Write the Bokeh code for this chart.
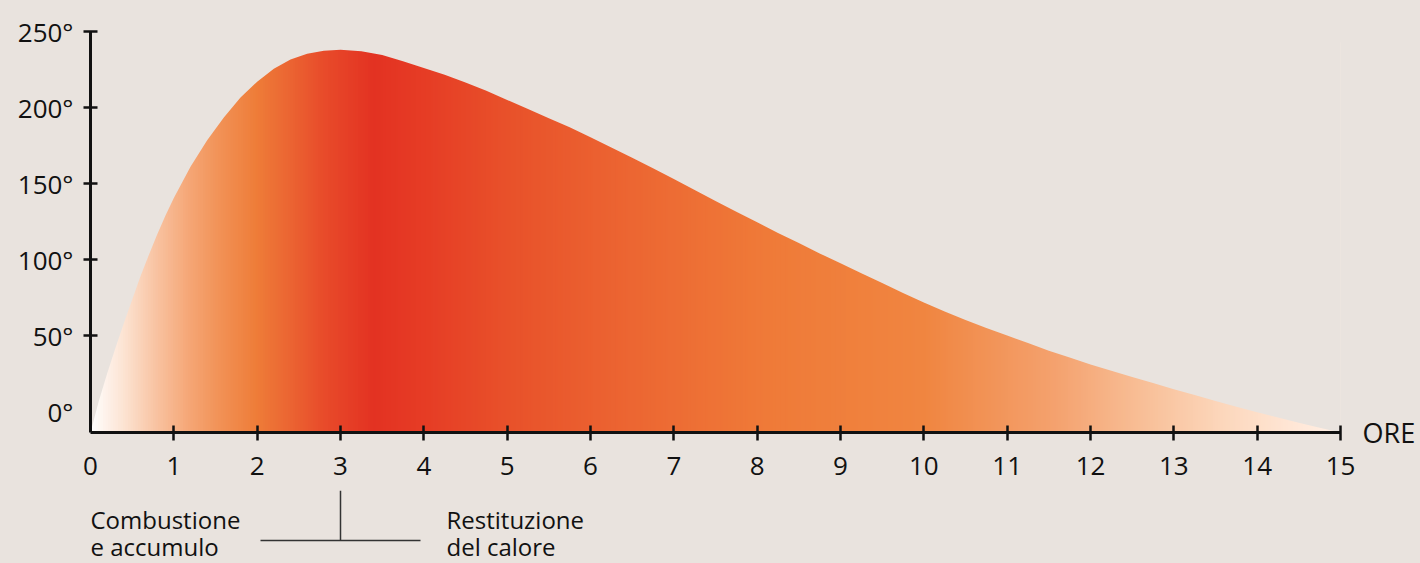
import numpy as np
from bokeh.plotting import figure
from bokeh.layouts import column
from bokeh.models import FixedTicker, Range1d, LinearAxis
from bokeh.core.properties import value
from bokeh.embed import file_html
from bokeh.resources import INLINE

# ---- data ----
hours = [0, 0.1, 0.2, 0.3, 0.4, 0.5, 0.6, 0.7, 0.8, 0.9, 1.0, 1.2, 1.4, 1.6, 1.8, 2.0, 2.2, 2.4,
         2.6, 2.8, 3.0, 3.25, 3.5, 3.75, 4.0, 4.25, 4.5, 4.75, 5.0, 5.25, 5.5, 5.75, 6.0, 6.25,
         6.5, 6.75, 7.0, 7.25, 7.5, 7.75, 8.0, 8.25, 8.5, 8.75, 9.0, 9.25, 9.5, 9.75, 10.0,
         10.25, 10.5, 10.75, 11.0, 11.25, 11.5, 11.75, 12.0, 12.25, 12.5, 12.75, 13.0, 13.25,
         13.5, 13.75, 14.0, 14.25, 14.5, 14.75, 15.0]
temps = [-13.8, 7, 25, 42, 58, 73.5, 89, 103, 116.5, 129, 140.5, 161, 178.5, 193.5, 206.5, 217,
         225.5, 231.5, 235.3, 237.3, 238, 237, 234.5, 230.5, 226, 221.5, 216.5, 211, 205, 199,
         193, 187, 180.5, 173.7, 167, 160, 153, 145.7, 138.5, 131.5, 124.5, 117.5, 110.8, 104,
         97.5, 91, 84.5, 78, 71.8, 65.8, 60.2, 55, 50, 45, 40, 35.5, 31, 26.8, 22.7, 18.7, 14.7,
         10.8, 7, 3.2, -0.5, -4, -7.4, -10.6, -13.8]

x_ticks = list(range(0, 16))
x_tick_marks = list(range(1, 16))
y_ticks = [0, 50, 100, 150, 200, 250]
y_tick_marks = [50, 100, 150, 200, 250]
y_tick_labels = {t: f"{t}°" for t in y_ticks}
x_unit_label = "ORE"
phase_left = ["Combustione", "e accumulo"]
phase_right = ["Restituzione", "del calore"]
phase_split_hour = 3

# gradient colour stops (hour, colour)
grad_hours = [0, 0.4, 0.8, 1.2, 1.6, 2.0, 2.4, 2.8, 3.4, 4.0, 5.0, 6.5, 8.1, 10.0, 11.6, 12.6, 13.6, 14.4, 15]
grad_colors = ["#FFFFFF", "#FCE3D2", "#F8C2A0", "#F5A574", "#F18F52", "#EE7C38", "#EB6432", "#E84B2A",
               "#E33222", "#E63C25", "#E8512A", "#EC6632", "#EF7A38", "#F08540", "#F4A26F", "#F8BE96",
               "#FCD7BC", "#FFE6D5", "#FFF0E6"]

BG = "#E9E3DE"
INK = "#111111"
FONT = "Open Sans"
Y0 = -13.8
W = 1420
TOP_H = 490
BOT_H = 563 - TOP_H

p = figure(width=W, height=TOP_H, x_range=Range1d(0, 15), y_range=Range1d(Y0, 250),
           output_backend="svg", toolbar_location=None,
           background_fill_color=None, border_fill_color=BG,
           min_border_left=90, min_border_right=80, min_border_top=31, min_border_bottom=TOP_H - 432)
p.outline_line_color = None
p.grid.visible = False

# gradient strips
def hex2rgb(h):
    h = h.lstrip("#")
    return [int(h[i:i + 2], 16) for i in (0, 2, 4)]

rgb = np.array([hex2rgb(c) for c in grad_colors], dtype=float)
step = 0.03
lefts = np.arange(0, 15, step)
mids = lefts + step / 2
cols = []
for m in mids:
    r = np.interp(m, grad_hours, rgb[:, 0])
    g = np.interp(m, grad_hours, rgb[:, 1])
    b = np.interp(m, grad_hours, rgb[:, 2])
    cols.append("#%02x%02x%02x" % (int(round(r)), int(round(g)), int(round(b))))
p.quad(left=lefts, right=np.minimum(lefts + step * 1.6, 15), bottom=Y0, top=max(temps) + 5,
       fill_color=cols, line_color=None)

# mask above the curve (extends past both ends of the x range)
mask_x = [-0.5] + list(hours) + [15.5, 15.5, -0.5]
mask_y = [Y0 - 5] + list(temps) + [Y0 - 5, 270, 270]
p.patch(mask_x, mask_y, fill_color=BG, line_color=None)

# axes: labels on major ticks, tick marks drawn as minor ticks
xa = p.xaxis[0]
xa.ticker = FixedTicker(ticks=x_ticks, minor_ticks=x_tick_marks)
ya = p.yaxis[0]
ya.ticker = FixedTicker(ticks=y_ticks, minor_ticks=y_tick_marks)
ya.major_label_overrides = y_tick_labels
for ax in (xa, ya):
    ax.axis_line_width = 3
    ax.axis_line_color = INK
    ax.major_tick_line_color = None
    ax.major_tick_in = 0
    ax.major_tick_out = 0
    ax.minor_tick_line_width = 2.5
    ax.minor_tick_line_color = INK
    ax.major_label_text_font = FONT
    ax.major_label_text_font_size = "26px"
    ax.major_label_text_color = INK
xa.minor_tick_in = 7
xa.minor_tick_out = 8
xa.major_label_standoff = 16
ya.minor_tick_in = 7
ya.minor_tick_out = 7
ya.major_label_standoff = 10

ore_axis = LinearAxis(ticker=FixedTicker(ticks=[Y0]), major_label_overrides={Y0: x_unit_label},
                      axis_line_color=None, major_tick_line_color=None, minor_tick_line_color=None,
                      major_tick_in=0, major_tick_out=0, major_label_standoff=22,
                      major_label_text_font=FONT, major_label_text_font_size="27px",
                      major_label_text_color=INK)
p.add_layout(ore_axis, "right")

# ---- bottom strip with the phase annotation (frame aligned with the chart above) ----
PX_PER_H = 1250 / 15.0
q = figure(width=W, height=BOT_H,
           x_range=p.x_range, y_range=Range1d(BOT_H, 0),
           x_axis_location=None, y_axis_location=None,
           output_backend="svg", toolbar_location=None,
           background_fill_color=None, border_fill_color=BG,
           min_border_left=90, min_border_right=80, min_border_top=0, min_border_bottom=0)
q.outline_line_color = None
q.grid.visible = False

def xd(page_x):
    return (page_x - 90) / PX_PER_H

def yd(page_y):
    return page_y - TOP_H

q.text(x=[0, 0, xd(446), xd(446)],
       y=[yd(519), yd(546), yd(519), yd(546)],
       text=[phase_left[0], phase_left[1], phase_right[0], phase_right[1]],
       text_font=value(FONT), text_font_size="24px", text_color=INK,
       text_align="left", text_baseline="alphabetic")
q.segment(x0=[phase_split_hour, xd(260)], y0=[yd(490), yd(540)],
          x1=[phase_split_hour, xd(420)], y1=[yd(540), yd(540)],
          line_color="#333333", line_width=1.5)

layout = column(p, q, spacing=0)
html = file_html(layout, INLINE)
head_end = html.find("</head>")
body_at = html.find("<body", head_end if head_end >= 0 else 0)
if body_at >= 0:
    html = html[:body_at] + '<body style="background:%s;"' % BG + html[body_at + 5:]
open("out.html", "w").write(html)
